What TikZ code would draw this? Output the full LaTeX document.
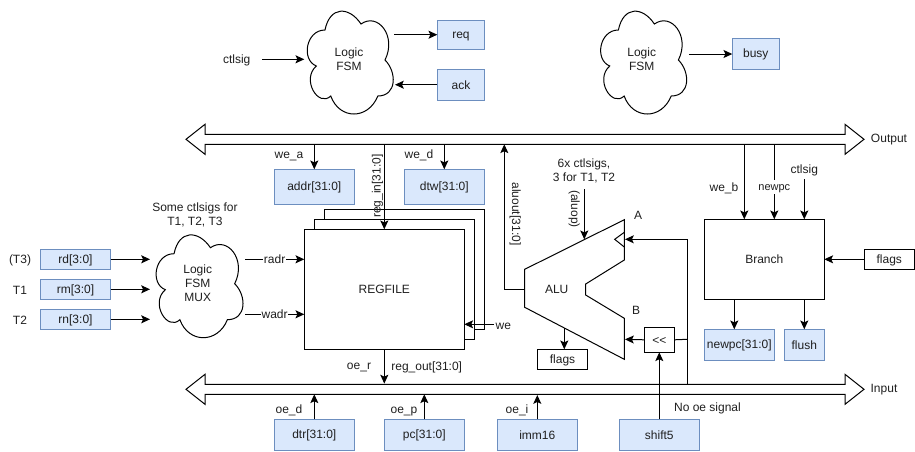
\documentclass[tikz,border=0pt]{standalone}
\usepackage{fontspec}
\setmainfont{Liberation Sans}
\usetikzlibrary{arrows.meta}
\definecolor{bluefill}{HTML}{DAE8FC}
\definecolor{blueline}{HTML}{6C8EBF}
\newcommand{\tstrut}{\rule[-1pt]{0pt}{8.6pt}}
\tikzset{
  px/.style={x=0.75pt,y=-0.75pt},
  line/.style={draw=black,line width=0.75pt},
  arr/.style={line,-{Stealth[length=6.6pt,width=6pt,inset=1.4pt]}},
  lbl/.style={font=\fontsize{9}{10.5}\selectfont,align=center,inner sep=0pt,text=black!88,
    execute at begin node=\tstrut,execute at end node=\tstrut},
  wlbl/.style={lbl,fill=white,inner sep=0.5pt},
  boxbase/.style={rectangle,inner sep=0pt,outer sep=0pt,font=\fontsize{9}{10.5}\selectfont,align=center,text=black!88,
    execute at begin node=\tstrut,execute at end node=\tstrut},
  bluebox/.style={boxbase,draw=blueline,fill=bluefill,line width=0.75pt},
  plainbox/.style={boxbase,draw=black,fill=white,line width=0.75pt},
  ghost/.style={boxbase},
  cloudline/.style={draw=black,fill=white,line width=0.75pt},
  bus/.style={draw=black,fill=white,line width=0.75pt,line join=miter},
}
\newcommand{\rbox}[7][]{%
  \node[#2,#1,minimum width={(#5-#3)*0.75pt},minimum height={(#6-#4)*0.75pt}] (#7) at ({(#3+#5)/2},{(#4+#6)/2}) {\rboxtext};}
\newcommand{\mkbox}[7]{\def\rboxtext{#7}\rbox{#1}{#3}{#4}{#5}{#6}{#2}}
\newcommand{\mycloud}[4]{%
  \pgfmathsetmacro{\cw}{#3*0.75}\pgfmathsetmacro{\ch}{#4*0.75}
  \begin{scope}[shift={(#1,#2)},x=\cw pt,y=-\ch pt]
    \draw[cloudline] (0.25,0.25) .. controls (0.05,0.25) and (0,0.5) .. (0.16,0.55)
      .. controls (0,0.66) and (0.18,0.9) .. (0.31,0.8)
      .. controls (0.4,1) and (0.7,1) .. (0.8,0.8)
      .. controls (1,0.8) and (1,0.6) .. (0.875,0.5)
      .. controls (1,0.3) and (0.8,0.1) .. (0.625,0.2)
      .. controls (0.5,0.05) and (0.3,0.05) .. (0.25,0.25) -- cycle;
  \end{scope}}
\newcommand{\busshape}[1]{%
  \draw[bus] (186,#1) -- (205,#1-15) -- (205,#1-5) -- (845,#1-5) -- (845,#1-15)
    -- (864,#1) -- (845,#1+15) -- (845,#1+5) -- (205,#1+5) -- (205,#1+15) -- cycle;}
\begin{document}
\begin{tikzpicture}[px]
\useasboundingbox (0,0) rectangle (915,451);

% clouds
\mycloud{301}{0}{96}{120}
\mycloud{594.4}{0}{96}{120}
\mycloud{149.8}{223.7}{97}{120}
\node[lbl] (cloudA) at (349,60) {Logic\\FSM};
\node[lbl] (cloudB) at (641.7,60) {Logic\\FSM};
\node[lbl] (cloudC) at (197.7,284) {Logic\\FSM\\MUX};

% buses
\busshape{139.3}
\busshape{389.3}
\mkbox{ghost}{obus}{186}{134.3}{864}{144.3}{}
\mkbox{ghost}{ibus}{186}{384.3}{864}{394.3}{}
\node[lbl] (outlabel) at (889,139) {Output};
\node[lbl] (inlabel) at (884,389) {Input};

% blue boxes
\mkbox{bluebox}{req}{437.3}{20.3}{484.6}{49.6}{req}
\mkbox{bluebox}{ack}{437.3}{69.6}{484.6}{100}{ack}
\mkbox{bluebox}{busy}{732.3}{38.6}{779.3}{69.3}{busy}
\mkbox{bluebox}{addr}{274.3}{169.3}{354.3}{204.3}{addr[31:0]}
\mkbox{bluebox}{dtw}{404.3}{169.3}{484.3}{204.3}{dtw[31:0]}
\mkbox{bluebox}{rd}{40.5}{249.3}{110.5}{269.3}{rd[3:0]}
\mkbox{bluebox}{rm}{40.5}{279.3}{110.5}{299.3}{rm[3:0]}
\mkbox{bluebox}{rn}{40.5}{309.3}{110.5}{329.3}{rn[3:0]}
\mkbox{bluebox}{dtr}{274.3}{419.3}{354.3}{450.3}{dtr[31:0]}
\mkbox{bluebox}{pc}{384.3}{419.3}{464.3}{450.3}{pc[31:0]}
\mkbox{bluebox}{imm}{497.3}{419.3}{577.3}{450.3}{imm16}
\mkbox{bluebox}{shiftf}{619.3}{419.3}{699.3}{450.3}{shift5}
\mkbox{bluebox}{newpcb}{704.3}{329.3}{774.3}{360.3}{newpc[31:0]}
\mkbox{bluebox}{flush}{784.3}{329.3}{824.3}{360.3}{flush}

% regfile
\mkbox{plainbox}{regC}{324.3}{209.3}{484.3}{329.3}{}
\mkbox{plainbox}{regB}{314.3}{219.3}{474.3}{339.3}{}
\mkbox{plainbox}{reg}{304.3}{229.3}{464.3}{349.3}{REGFILE}

% branch and small boxes
\mkbox{plainbox}{branch}{704.3}{219.3}{824.3}{299.3}{Branch}
\mkbox{plainbox}{flagsB}{864.3}{249.3}{914.3}{269.3}{flags}
\mkbox{plainbox}{flagsA}{537.3}{349.3}{587.7}{369.3}{flags}

% ALU
\draw[line,fill=white,line join=miter] (524.7,269.3) -- (624.3,219.7) -- (624.3,260) -- (585.7,284)
  -- (585.7,295) -- (624.3,318.3) -- (624.3,359.3) -- (524.7,307.3) -- cycle;
\draw[line] (624.3,232.3) -- (614.7,239.3) -- (624.3,247);
\mkbox{ghost}{alu}{524.7}{269.3}{624.3}{307.3}{}
\node[lbl] (alutext) at (556.7,289) {ALU};
\node[lbl] (aport) at (638,215) {A};
\node[lbl] (bport) at (636,309.6) {B};
\coordinate (aluW) at (524.7,289.3);
\coordinate (aluA) at (625,239.3);
\coordinate (aluB) at (625,339.3);
\coordinate (aluTop) at (584.3,239.3);
\coordinate (aluBot) at (564.3,328);
\mkbox{plainbox}{shl}{644.3}{327.3}{674.3}{352.3}{{<}{<}}

% labels
\node[lbl] (tT3) at (20,260) {(T3)};
\node[lbl] (tT1) at (20,290) {T1};
\node[lbl] (tT2) at (20,320) {T2};
\node[lbl] (some) at (195,214.5) {Some ctlsigs for\\T1, T2, T3};
\node[lbl] (ctlA) at (236.7,60) {ctlsig};
\node[lbl] (we_a) at (289,155) {we\_a};
\node[lbl] (we_d) at (419,155) {we\_d};
\node[lbl] (we_b) at (724,188) {we\_b};
\node[lbl] (ctlB) at (804.3,170) {ctlsig};
\node[lbl] (six) at (584,170.5) {6x ctlsigs,\\3 for T1, T2};
\node[lbl,rotate=-90] (aluop) at (575,209) {(aluop)};
\node[lbl,rotate=-90] (aluout) at (516,214) {aluout[31:0]};
\node[lbl,rotate=90] (regin) at (376.7,186) {reg\_in[31:0]};
\node[lbl] (oe_r) at (359,366) {oe\_r};
\node[lbl] (regout) at (426.7,366.5) {reg\_out[31:0]};
\node[lbl] (oe_d) at (289,410) {oe\_d};
\node[lbl] (oe_p) at (404,410) {oe\_p};
\node[lbl] (oe_i) at (517,410) {oe\_i};
\node[lbl] (nooe) at (707.5,408) {No oe signal};
\node[lbl] (welbl) at (503.3,325) {we};

% free ends
\coordinate (ctlOut) at (262,59.3);
\coordinate (cAin) at (304.3,59.3);
\coordinate (cAreq) at (394.3,34.7);
\coordinate (cAack) at (395,84.7);
\coordinate (cBout) at (689.3,54);
\coordinate (cCrd) at (150,259.3);
\coordinate (cCrm) at (150,289.3);
\coordinate (cCrn) at (150,319.3);
\coordinate (cCr) at (245,259.3);
\coordinate (cCw) at (245,314.3);
\coordinate (ctlBout) at (804.3,179);
\coordinate (sixOut) at (584.3,189.3);
\coordinate (weStart) at (494,324.3);
\coordinate (bendA) at (687.3,239.3);
\coordinate (tapShl) at (687.3,339.3);

% top connectors
\draw[arr] (ctlOut) -- (cAin);
\draw[arr] (cAreq) -- (cAreq -| req.west);
\draw[arr] (ack.west |- cAack) -- (cAack);
\draw[arr] (cBout) -- (cBout -| busy.west);

% output bus connectors
\draw[arr] (obus.south -| addr) -- (addr.north);
\draw[arr] (obus.south -| dtw) -- (dtw.north);
\draw[arr] (obus.south -| reg) -- (reg.north);
\draw[arr] (aluW) -- (504.3,289.3) -- (504.3,144.3);
\draw[arr] (sixOut) -- (aluTop);
\draw[arr] (aluBot) -- (aluBot |- flagsA.north);

% left side
\draw[arr] (rd.east |- cCrd) -- (cCrd);
\draw[arr] (rm.east |- cCrm) -- (cCrm);
\draw[arr] (rn.east |- cCrn) -- (cCrn);
\draw[arr] (cCr) -- node[wlbl,pos=0.5] (radr) {radr} (cCr -| reg.west);
\draw[arr] (cCw) -- node[wlbl,pos=0.5] (wadr) {wadr} (cCw -| reg.west);
\draw[arr] (weStart) -- (weStart -| reg.east);

% input bus connectors
\draw[arr] (reg.south) -- (ibus.north -| reg);
\draw[arr] (314.3,419.3) -- (314.3,394.3);
\draw[arr] (424.3,419.3) -- (424.3,394.3);
\draw[arr] (imm.north) -- (ibus.south -| imm);
\draw[arr] (shiftf.north -| shl) -- (shl.south);
\draw[arr] (shl.west) -- (aluB);
\draw[line] (shl.east) -- (tapShl);
\draw[arr] (ibus.north -| bendA) -- (bendA) -- (aluA);

% branch
\draw[arr] (744.3,144.3) -- (744.3,219.3);
\draw[arr] (774.3,144.3) -- node[pos=0.57,wlbl,font=\fontsize{8.25}{10}\selectfont] (newpcl) {newpc} (774.3,219.3);
\draw[arr] (ctlBout) -- (ctlBout |- branch.north);
\draw[arr] (flagsB.west) -- (branch.east);
\draw[arr] (734.3,299.3) -- (734.3,329.3);
\draw[arr] (804.3,299.3) -- (804.3,329.3);
\end{tikzpicture}
\end{document}
